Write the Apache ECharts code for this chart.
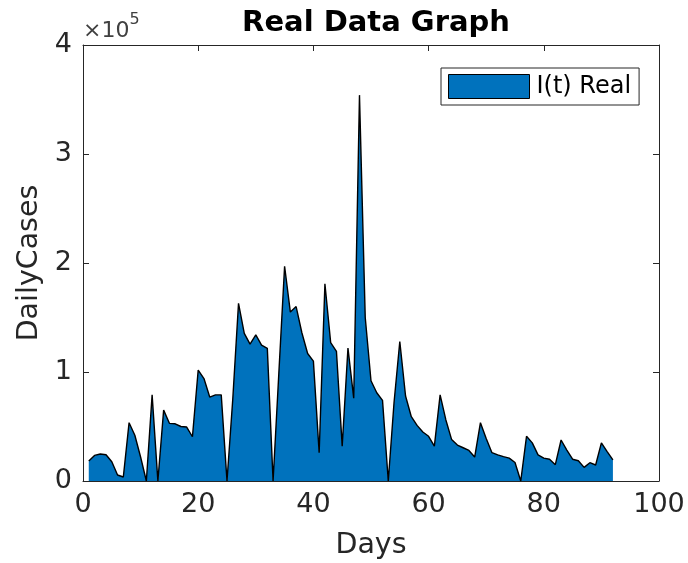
<!DOCTYPE html>
<html>
<head>
<meta charset="utf-8">
<script src="https://cdn.jsdelivr.net/npm/echarts@6/dist/echarts.min.js"></script>
<style>
html,body{margin:0;padding:0;background:#fff;}
#chart{width:688px;height:563px;}
</style>
</head>
<body>
<div id="chart"></div>
<script>
const days = [];
for (let d = 1; d <= 92; d++) days.push(d);
const dailyCases = [
  18300, 23500, 24800, 24100, 17700, 5500, 3700, 53500, 42000, 22000,
  0, 79000, 0, 65000, 52900, 52500, 50000, 49500, 40600, 101800,
  94000, 77000, 79000, 79000, 0, 75000, 163000, 135500, 125600, 134000,
  124700, 121700, 0, 99000, 197000, 155000, 160000, 136000, 117000, 110000,
  26000, 181000, 127000, 119000, 32000, 122000, 76000, 354000, 150000, 92000,
  81000, 74000, 0, 72000, 128000, 78000, 59000, 51000, 45000, 41000,
  32000, 79000, 56000, 38000, 33000, 30500, 28000, 22000, 53500, 39000,
  26000, 24000, 22300, 21000, 17000, 0, 41000, 35000, 24000, 21000,
  20000, 15000, 37600, 28400, 20000, 18600, 12500, 16800, 14700, 35000,
  27000, 19300
];
const xTicks = [0, 20, 40, 60, 80, 100];
const yTickLabels = ['0', '1', '2', '3', '4'];
const seriesName = 'I(t) Real';

const axisColor = '#262626';
const FONT = 'DejaVu Sans';
const chart = echarts.init(document.getElementById('chart'));
const pts = days.map((d, i) => [d, dailyCases[i]]);

function boxAxis(extra) {
  return Object.assign({
    axisLine: {show: true, onZero: false, lineStyle: {color: axisColor, width: 1}},
    axisTick: {show: true, inside: true, length: 6, lineStyle: {color: axisColor}},
    axisLabel: {show: false}, splitLine: {show: false}
  }, extra);
}

chart.setOption({
  animation: false,
  backgroundColor: '#fff',
  title: {
    text: 'Real Data Graph', left: 371, top: 4, textAlign: 'center',
    textStyle: {fontFamily: FONT, fontWeight: 'bold', fontSize: 29, color: '#000'}
  },
  legend: {
    left: 441, top: 68, padding: [6, 8, 6, 7],
    borderColor: axisColor, borderWidth: 1, backgroundColor: '#fff',
    itemWidth: 81, itemHeight: 24, itemGap: 0,
    data: [{name: seriesName, icon: 'rect'}],
    itemStyle: {color: '#0072BD', borderColor: '#000', borderWidth: 1},
    textStyle: {fontFamily: FONT, fontSize: 24, color: '#000', padding: [0, 0, 0, 2]}
  },
  grid: {left: 83, top: 45, width: 576, height: 436, containLabel: false, outerBoundsMode: 'none'},
  xAxis: [boxAxis({
    type: 'value', min: 0, max: 100, interval: 20, position: 'bottom',
    name: 'Days', nameLocation: 'middle', nameGap: 50,
    nameTextStyle: {fontFamily: FONT, fontSize: 28.5, color: axisColor},
    axisLabel: {show: true, fontFamily: FONT, fontSize: 27, color: axisColor, margin: 10,
      alignMinLabel: 'center', alignMaxLabel: 'center', hideOverlap: false,
      formatter: v => xTicks.includes(v) ? String(v) : ''}
  }), boxAxis({
    type: 'value', min: 0, max: 100, interval: 20, position: 'top'
  })],
  yAxis: [boxAxis({
    type: 'value', min: 0, max: 400000, interval: 100000, position: 'left',
    name: 'DailyCases', nameLocation: 'middle', nameGap: 39,
    nameTextStyle: {fontFamily: FONT, fontSize: 28.5, color: axisColor},
    axisLabel: {show: true, fontFamily: FONT, fontSize: 27, color: axisColor, margin: 11,
      formatter: v => yTickLabels[Math.round(v / 100000)]}
  }), boxAxis({
    type: 'value', min: 0, max: 400000, interval: 100000, position: 'right'
  })],
  graphic: [{
    type: 'text', left: 83, top: 12,
    style: {
      text: '{a|×10}{b|5}',
      rich: {
        a: {fontFamily: FONT, fontSize: 22, fill: '#404040', verticalAlign: 'bottom', lineHeight: 30},
        b: {fontFamily: FONT, fontSize: 16, fill: '#404040', verticalAlign: 'top', lineHeight: 30, padding: [0,0,12,0]}
      }
    }
  }],
  series: [{
    name: seriesName, type: 'line', data: pts,
    xAxisIndex: 0, yAxisIndex: 0,
    symbol: 'none', showSymbol: false,
    lineStyle: {color: '#000', width: 1.4},
    itemStyle: {color: '#0072BD'},
    areaStyle: {color: '#0072BD', opacity: 1},
    z: 2
  }]
});
</script>
</body>
</html>
